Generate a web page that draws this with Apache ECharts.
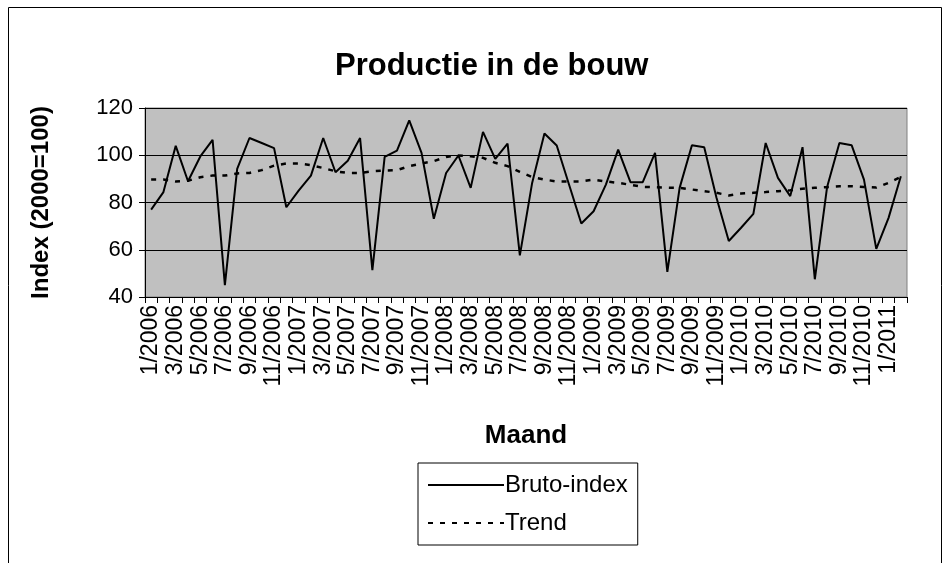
<!DOCTYPE html>
<html>
<head>
<meta charset="utf-8">
<script src="https://cdn.jsdelivr.net/npm/echarts@6/dist/echarts.min.js"></script>
<style>html,body{margin:0;padding:0;background:#fff;}#c{width:949px;height:563px;}</style>
</head>
<body>
<div id="c"></div>
<script>
const months = [
"1/2006","2/2006","3/2006","4/2006","5/2006","6/2006","7/2006","8/2006","9/2006","10/2006","11/2006","12/2006",
"1/2007","2/2007","3/2007","4/2007","5/2007","6/2007","7/2007","8/2007","9/2007","10/2007","11/2007","12/2007",
"1/2008","2/2008","3/2008","4/2008","5/2008","6/2008","7/2008","8/2008","9/2008","10/2008","11/2008","12/2008",
"1/2009","2/2009","3/2009","4/2009","5/2009","6/2009","7/2009","8/2009","9/2009","10/2009","11/2009","12/2009",
"1/2010","2/2010","3/2010","4/2010","5/2010","6/2010","7/2010","8/2010","9/2010","10/2010","11/2010","12/2010",
"1/2011","2/2011"];
const brutoIndex = [77,84.4,104,89,99.5,106.5,45,94.2,107.3,105.2,103,78,
85,91.4,107.3,92.8,97.7,107.3,51.4,99.3,102,114.8,101,73.1,
92.5,99.9,86.2,109.9,98.5,104.9,57.6,88.3,109.2,104.1,87.6,71.1,
76.3,87.6,102.4,88.6,88.6,101,50.6,86.2,104.2,103.4,82,63.7,
69.3,75.2,105.2,90.4,82.7,103.4,47.5,86.6,105.2,104.2,89.7,60.4,
73.5,91.1];
const trend = [89.7,89.7,88.9,89.2,90.7,91.4,91.4,92.3,92.5,93.7,95.6,96.5,
96.5,95.8,94.6,93.2,92.5,92.5,93.2,93.5,93.7,95.4,96.5,97.5,
99.3,99.9,99.6,98.9,96.8,95.4,93,90.8,89.7,88.9,88.9,88.9,
89.7,88.9,88.3,87.5,86.6,86.5,86.3,86.2,85.5,84.8,84.1,83,
83.8,84.1,84.4,84.8,85.2,85.8,86.2,86.5,86.9,86.9,86.6,86.3,
88.3,90.8];
const yTicks = {min: 40, max: 120, interval: 20};

const font = 'Liberation Sans, Arial, sans-serif';
const chart = echarts.init(document.getElementById('c'), null, {renderer: 'canvas'});
chart.setOption({
  animation: false,
  backgroundColor: '#ffffff',
  graphic: [{
    type: 'rect', silent: true, z: -10,
    shape: {x: 8.5, y: 7.5, width: 933, height: 570},
    style: {fill: 'none', stroke: '#000', lineWidth: 1}
  }],
  title: {
    text: 'Productie in de bouw',
    left: 330, top: 46,
    textStyle: {fontFamily: font, fontSize: 31, fontWeight: 'bold', color: '#000'}
  },
  legend: {
    orient: 'vertical',
    left: 418, top: 463,
    borderColor: '#000', borderWidth: 1, borderRadius: 0,
    padding: [10, 10, 10, 9],
    itemGap: 14,
    itemWidth: 76, itemHeight: 14,
    itemStyle: {opacity: 0},
    textStyle: {fontFamily: font, fontSize: 24, color: '#000', padding: [0,0,0,-4]},
    data: ['Bruto-index', 'Trend']
  },
  grid: {
    left: 145, right: 42, top: 108, bottom: 266,
    show: true, backgroundColor: '#C0C0C0', borderColor: '#808080', borderWidth: 1
  },
  xAxis: {
    type: 'category',
    data: months,
    boundaryGap: true,
    name: 'Maand', nameLocation: 'middle', nameGap: 126,
    nameTextStyle: {fontFamily: font, fontSize: 26, fontWeight: 'bold', color: '#000'},
    axisLine: {show: true, lineStyle: {color: '#000', width: 1}},
    axisTick: {show: true, interval: 0, length: 6, lineStyle: {color: '#000'}},
    axisLabel: {interval: 1, rotate: 90, margin: 8, fontFamily: font, fontSize: 23, color: '#000'},
    splitLine: {show: false}
  },
  yAxis: {
    type: 'value',
    min: yTicks.min, max: yTicks.max, interval: yTicks.interval,
    name: 'Index (2000=100)', nameLocation: 'middle', nameGap: 92, nameRotate: 90,
    nameTextStyle: {fontFamily: font, fontSize: 24, fontWeight: 'bold', color: '#000'},
    axisLine: {show: true, lineStyle: {color: '#000', width: 1}},
    axisTick: {show: true, length: 6, lineStyle: {color: '#000'}},
    axisLabel: {margin: 12, fontFamily: font, fontSize: 22, color: '#000'},
    splitLine: {show: true, lineStyle: {color: '#000', width: 1}}
  },
  series: [
    {
      name: 'Bruto-index', type: 'line', data: brutoIndex,
      symbol: 'none', color: '#000',
      lineStyle: {color: '#000', width: 2}
    },
    {
      name: 'Trend', type: 'line', data: trend,
      symbol: 'none', color: '#000',
      lineStyle: {color: '#000', width: 2.5, type: [5, 7]}
    }
  ]
});
</script>
</body>
</html>
